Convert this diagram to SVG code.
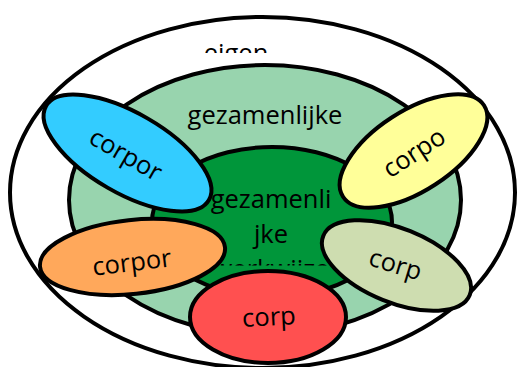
<svg xmlns="http://www.w3.org/2000/svg" width="518" height="367" viewBox="0 0 518 367">
<defs>
<style>
.o{stroke:#000;stroke-width:4}
.t{font-family:"Open Sans","Liberation Sans",sans-serif;font-size:25.5px;fill:#000;text-anchor:middle}
</style>
<clipPath id="clipEigen"><rect x="0" y="0" width="518" height="53"/></clipPath>
<clipPath id="clipCenter"><rect x="0" y="0" width="518" height="265.5"/></clipPath>
</defs>
<rect width="518" height="367" fill="#fff"/>
<g id="eigen">
<ellipse class="o" cx="262.5" cy="192.5" rx="252.5" ry="175.5" fill="#fff"/>
<text class="t" x="236" y="62" clip-path="url(#clipEigen)">eigen</text>
</g>
<g id="gezamenlijke">
<ellipse class="o" cx="265" cy="200" rx="196" ry="135" fill="#98D4AE"/>
<text class="t" x="265" y="124">gezamenlijke</text>
</g>
<g id="gezamenlijke-kern">
<ellipse class="o" cx="272" cy="222" rx="120" ry="75" fill="#00963A"/>
<g clip-path="url(#clipCenter)">
<text class="t" x="271" y="208">gezamenli</text>
<text class="t" x="271" y="243">jke</text>
<text class="t" x="271" y="278">werkwijze</text>
</g>
</g>
<g id="corp-blauw">
<ellipse class="o" cx="127.5" cy="153" rx="94" ry="40" transform="rotate(30 127.5 153)" fill="#33CCFF"/>
<text class="t" transform="translate(125,156) rotate(30)" x="0" y="7">corpor</text>
</g>
<g id="corp-geel">
<ellipse class="o" cx="413.5" cy="151" rx="84" ry="40" transform="rotate(-33 413.5 151)" fill="#FFFF99"/>
<text class="t" transform="translate(415,154) rotate(-33)" x="0" y="7">corpo</text>
</g>
<g id="corp-oranje">
<ellipse class="o" cx="132.5" cy="257" rx="93" ry="37" transform="rotate(-6 132.5 257)" fill="#FFA85B"/>
<text class="t" transform="translate(132,264) rotate(-7)" x="0" y="7">corpor</text>
</g>
<g id="corp-olijf">
<ellipse class="o" cx="396.5" cy="265.5" rx="79" ry="37" transform="rotate(22 396.5 265.5)" fill="#CEDDB0"/>
<text class="t" transform="translate(395,266) rotate(17)" x="0" y="7">corp</text>
</g>
<g id="corp-rood">
<ellipse class="o" cx="268" cy="317" rx="78" ry="46" fill="#FF5050"/>
<text class="t" transform="translate(269,318.5) rotate(-3)" x="0" y="7">corp</text>
</g>
<g id="connectors"/>
</svg>
